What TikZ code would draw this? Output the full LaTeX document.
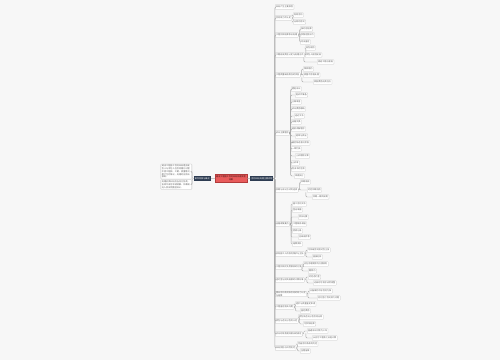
\documentclass[tikz,border=0pt]{standalone}
\usepackage{fontspec}
\usepackage{tikz}
\newfontfamily\cjk{Noto Sans CJK SC}
\XeTeXlinebreaklocale "zh"
\XeTeXlinebreakskip=0pt plus 0.1pt

\definecolor{mbg}{HTML}{F7F7F7}
\definecolor{mred}{HTML}{E85B5B}
\definecolor{mredline}{HTML}{B23A3A}
\definecolor{mredtext}{HTML}{3A1212}
\definecolor{mnavy}{HTML}{2D3C52}
\definecolor{mbox}{HTML}{BDBDBD}
\definecolor{mtext}{HTML}{5E5E5E}
\definecolor{mlink}{HTML}{A9A9A9}
\newcommand{\mapfont}{\cjk\fontsize{1.2pt}{1.55pt}\selectfont}

\begin{document}
\begin{tikzpicture}[
    x=0.02cm, y=-0.02cm,
    root/.style={rectangle, draw=mredline, fill=mred, text=mredtext, align=center, font=\mapfont, inner xsep=0.02cm, inner ysep=0.03cm, line width=0.2pt, anchor=west},
    hub/.style={rectangle, fill=mnavy, text=white, font=\mapfont, inner xsep=0.02cm, inner ysep=0.01cm, minimum height=0.1cm},
    topic/.style={rectangle, draw=mbox, fill=white, text=mtext, anchor=west, font=\mapfont, inner xsep=0.02cm, inner ysep=0.005cm, minimum height=0.09cm, rounded corners=0.3pt, line width=0.15pt},
    leaf/.style={topic, draw=mbox!85},
    note/.style={topic, text width=0.58cm, align=left, anchor=east, inner ysep=0.02cm},
    link/.style={draw=mlink, line width=0.25pt, rounded corners=0.6pt}
  ]
    % Background and page size
    \fill[mbg] (0,0) rectangle (500,360);
    \useasboundingbox (0,0) rectangle (500,360);

    % Centre
    \node[root] (root) at (215,178) {建设工程施工合同纠纷处理流程\\详解};
    \node[hub, anchor=east] (lhub) at (211,178.5) {案件背景与概述};
    \node[hub, anchor=west] (rhub) at (250,178.5) {合同纠纷处理主要流程};

    % Left notes
    \node[note] (note1) at (192,171.5) {建设工程施工合同纠纷是指发包人与承包人在合同履行过程中因工程款、工期、质量等问题产生的争议，处理时应依法依规。};
    \node[note] (note2) at (192,184.5) {处理此类纠纷应当先行协商，协商不成可申请调解、仲裁或向人民法院提起诉讼。};

    % Main topics
    \node[topic] (t1) at (275,7) {纠纷产生主要原因};
    \node[topic] (t2) at (275,18) {合同效力的认定};
    \node[topic] (t3) at (275,35) {工程价款结算争议处理};
    \node[topic] (t4) at (275,55) {工期延误责任认定与处理方式};
    \node[topic] (t5) at (275,75) {工程质量缺陷责任的承担};
    \node[topic] (t6) at (275,133) {诉讼主要程序};
    \node[topic] (t7) at (275,190) {仲裁与诉讼方式的选择};
    \node[topic] (t8) at (275,224) {证据收集要点};
    \node[topic] (t9) at (275,254) {实际施工人的权利保护与主张};
    \node[topic] (t10) at (275,267) {工程价款优先受偿权的行使};
    \node[topic] (t11) at (275,280) {违约金与损失赔偿的计算标准};
    \node[topic, align=left] (t12) at (275,294) {黑白合同及阴阳合同的效力认定\\与结算};
    \node[topic] (t13) at (275,307) {工程鉴定相关问题};
    \node[topic] (t14) at (275,321) {转包与违法分包的认定};
    \node[topic] (t15) at (275,334) {诉讼时效及期间相关的规定};
    \node[topic] (t16) at (275,348) {纠纷预防与风险防范};

    % Sub topics
    \node[leaf] (t2a) at (293,15) {有效合同};
    \node[leaf] (t2b) at (293,22) {无效的合同};
    \node[leaf] (t3a) at (300,29) {按约定结算};
    \node[leaf] (t3b) at (300,35) {参照定额计价};
    \node[leaf] (t3c) at (300,42) {司法鉴定};
    \node[leaf] (t4a) at (305,48) {发包原因};
    \node[leaf] (t4b) at (305,55) {承包人原因延误};
    \node[leaf] (t4c) at (317,62) {顺延工期与索赔};
    \node[leaf] (t5a) at (303,69) {保修期内};
    \node[leaf] (t5b) at (303,75) {质量不合格处理};
    \node[leaf] (t5c) at (313,82) {修复费用由责任方};

    \node[leaf] (t6a) at (291,89) {提起诉讼};
    \node[leaf] (t6b) at (295,95) {起诉状准备};
    \node[leaf] (t6c) at (291,102) {立案审查};
    \node[leaf] (t6d) at (291,109) {诉讼费用缴纳};
    \node[leaf] (t6e) at (294,116) {送达文书};
    \node[leaf] (t6f) at (291,122) {证据交换};
    \node[leaf] (t6g) at (291,129) {庭前调解程序};
    \node[leaf] (t6h) at (295,136) {庭审与质证};
    \node[leaf] (t6i) at (291,143) {最后陈述意见阶段};
    \node[leaf] (t6j) at (291,149) {一审判决};
    \node[leaf] (t6k) at (295,156) {上诉期限计算};
    \node[leaf] (t6l) at (291,163) {上诉审};
    \node[leaf] (t6m) at (291,169) {判决书的生效};
    \node[leaf] (t6n) at (294,176) {申请执行};

    \node[leaf] (t7a) at (300,182) {仲裁条款};
    \node[leaf] (t7b) at (307,190) {约定仲裁机构};
    \node[leaf] (t7c) at (312,197) {仲裁一裁终局制};

    \node[leaf] (t8a) at (292,204) {施工合同文本};
    \node[leaf] (t8b) at (292,210) {签证单据};
    \node[leaf] (t8c) at (298,217) {会议纪要};
    \node[leaf] (t8d) at (292,224) {工程联系单据};
    \node[leaf] (t8e) at (292,231) {验收记录};
    \node[leaf] (t8f) at (298,237) {往来函件等};
    \node[leaf] (t8g) at (292,244) {结算资料};

    \node[leaf] (t9a) at (307,250) {可突破合同相对性主张};
    \node[leaf] (t9b) at (312,257) {直接起诉};
    \node[leaf] (t10a) at (303,264) {应在合理期限内行使权利};
    \node[leaf] (t10b) at (308,271) {期限内};
    \node[leaf] (t11a) at (308,277) {约定违约金};
    \node[leaf] (t11b) at (313,283) {过高时可请求法院调整};
    \node[leaf] (t12a) at (309,291) {以备案的中标合同为准};
    \node[leaf] (t12b) at (317,298) {另行签订合同效力问题};
    \node[leaf] (t13a) at (295,304) {造价与质量鉴定申请};
    \node[leaf] (t13b) at (300,311) {鉴定费用};
    \node[leaf] (t14a) at (298,317) {转包及违法分包合同无效};
    \node[leaf] (t14b) at (303,324) {可参照结算};
    \node[leaf] (t15a) at (307,331) {普通诉讼时效为三年};
    \node[leaf] (t15b) at (312,338) {从应付工程款之日起计算};
    \node[leaf] (t16a) at (297,344) {完善合同条款的约定};
    \node[leaf] (t16b) at (300,351) {全程留痕};

    % Centre links
    \draw[link] (lhub) -- (root);
    \draw[link] (root) -- (rhub);
    \draw[link] (lhub.west) -- ++(-1.5,0) |- (note1.east);
    \draw[link] (lhub.west) -- ++(-1.5,0) |- (note2.east);

    % Trunk to main topics
    \draw[link] (rhub.east) -- ++(1,0) |- (t1.west);
    \draw[link] (rhub.east) -- ++(1,0) |- (t2.west);
    \draw[link] (rhub.east) -- ++(1,0) |- (t3.west);
    \draw[link] (rhub.east) -- ++(1,0) |- (t4.west);
    \draw[link] (rhub.east) -- ++(1,0) |- (t5.west);
    \draw[link] (rhub.east) -- ++(1,0) |- (t6.west);
    \draw[link] (rhub.east) -- ++(1,0) |- (t7.west);
    \draw[link] (rhub.east) -- ++(1,0) |- (t8.west);
    \draw[link] (rhub.east) -- ++(1,0) |- (t9.west);
    \draw[link] (rhub.east) -- ++(1,0) |- (t10.west);
    \draw[link] (rhub.east) -- ++(1,0) |- (t11.west);
    \draw[link] (rhub.east) -- ++(1,0) |- (t12.west);
    \draw[link] (rhub.east) -- ++(1,0) |- (t13.west);
    \draw[link] (rhub.east) -- ++(1,0) |- (t14.west);
    \draw[link] (rhub.east) -- ++(1,0) |- (t15.west);
    \draw[link] (rhub.east) -- ++(1,0) |- (t16.west);

    % Branches of the upper topics
    \draw[link] (t2.east) -- ++(1.2,0) |- (t2a.west);
    \draw[link] (t2.east) -- ++(1.2,0) |- (t2b.west);
    \draw[link] (t3.east) -- ++(1.2,0) |- (t3a.west);
    \draw[link] (t3.east) -- ++(1.2,0) |- (t3b.west);
    \draw[link] (t3.east) -- ++(1.2,0) |- (t3c.west);
    \draw[link] (t4.east) -- ++(1.2,0) |- (t4a.west);
    \draw[link] (t4.east) -- ++(1.2,0) |- (t4b.west);
    \draw[link] ([xshift=-0.6]t4b.south west) |- (t4c.west);
    \draw[link] (t5.east) -- ++(1.2,0) |- (t5a.west);
    \draw[link] (t5.east) -- ++(1.2,0) |- (t5b.west);
    \draw[link] ([xshift=-0.6]t5b.south west) |- (t5c.west);

    % Procedure steps
    \draw[link] (t6.east) -- ++(0.8,0) |- (t6a.west);
    \draw[link] (t6.east) -- ++(0.8,0) |- (t6b.west);
    \draw[link] (t6.east) -- ++(0.8,0) |- (t6c.west);
    \draw[link] (t6.east) -- ++(0.8,0) |- (t6d.west);
    \draw[link] (t6.east) -- ++(0.8,0) |- (t6e.west);
    \draw[link] (t6.east) -- ++(0.8,0) |- (t6f.west);
    \draw[link] (t6.east) -- ++(0.8,0) |- (t6g.west);
    \draw[link] (t6.east) -- ++(0.8,0) |- (t6h.west);
    \draw[link] (t6.east) -- ++(0.8,0) |- (t6i.west);
    \draw[link] (t6.east) -- ++(0.8,0) |- (t6j.west);
    \draw[link] (t6.east) -- ++(0.8,0) |- (t6k.west);
    \draw[link] (t6.east) -- ++(0.8,0) |- (t6l.west);
    \draw[link] (t6.east) -- ++(0.8,0) |- (t6m.west);
    \draw[link] (t6.east) -- ++(0.8,0) |- (t6n.west);

    % Arbitration and evidence
    \draw[link] (t7.east) -- ++(1.2,0) |- (t7a.west);
    \draw[link] (t7.east) -- ++(1.2,0) |- (t7b.west);
    \draw[link] ([xshift=-0.6]t7b.south west) |- (t7c.west);
    \draw[link] (t8.east) -- ++(1.2,0) |- (t8a.west);
    \draw[link] (t8.east) -- ++(1.2,0) |- (t8b.west);
    \draw[link] (t8.east) -- ++(1.2,0) |- (t8c.west);
    \draw[link] (t8.east) -- ++(1.2,0) |- (t8d.west);
    \draw[link] (t8.east) -- ++(1.2,0) |- (t8e.west);
    \draw[link] (t8.east) -- ++(1.2,0) |- (t8f.west);
    \draw[link] (t8.east) -- ++(1.2,0) |- (t8g.west);

    % Branches of the lower topics
    \draw[link] (t9.east) -- ++(1.2,0) |- (t9a.west);
    \draw[link] ([xshift=-0.6]t9a.south west) |- (t9b.west);
    \draw[link] (t10.east) -- ++(1.2,0) |- (t10a.west);
    \draw[link] ([xshift=-0.6]t10a.south west) |- (t10b.west);
    \draw[link] (t11.east) -- ++(1.2,0) |- (t11a.west);
    \draw[link] ([xshift=-0.6]t11a.south west) |- (t11b.west);
    \draw[link] (t12.east) -- ++(1.2,0) |- (t12a.west);
    \draw[link] ([xshift=-0.6]t12a.south west) |- (t12b.west);
    \draw[link] (t13.east) -- ++(1.2,0) |- (t13a.west);
    \draw[link] (t13.east) -- ++(1.2,0) |- (t13b.west);
    \draw[link] (t14.east) -- ++(1.2,0) |- (t14a.west);
    \draw[link] (t14.east) -- ++(1.2,0) |- (t14b.west);
    \draw[link] (t15.east) -- ++(1.2,0) |- (t15a.west);
    \draw[link] ([xshift=-0.6]t15a.south west) |- (t15b.west);
    \draw[link] (t16.east) -- ++(1.2,0) |- (t16a.west);
    \draw[link] (t16.east) -- ++(1.2,0) |- (t16b.west);

  \end{tikzpicture}
\end{document}
